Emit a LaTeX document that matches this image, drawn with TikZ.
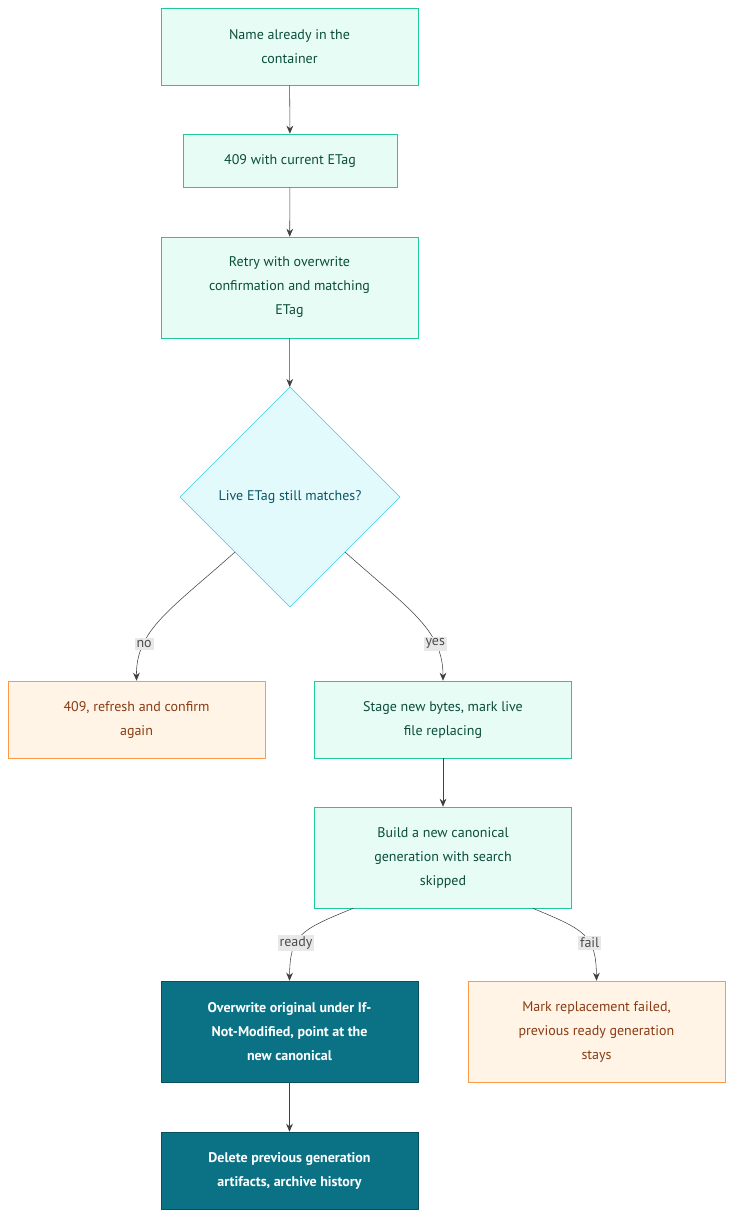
\documentclass[tikz,border=0pt]{standalone}
\usepackage{fontspec}
\setmainfont{PT Sans}
\usetikzlibrary{arrows.meta, positioning, shapes.geometric}
\definecolor{stepfill}{HTML}{E6FCF5}
\definecolor{stepline}{HTML}{20C997}
\definecolor{steptext}{HTML}{0B4D3A}
\definecolor{checkfill}{HTML}{E3FAFC}
\definecolor{checkline}{HTML}{3BC9DB}
\definecolor{checktext}{HTML}{0B5563}
\definecolor{stopfill}{HTML}{FFF4E6}
\definecolor{stopline}{HTML}{FD9A4A}
\definecolor{stoptext}{HTML}{8A3B12}
\definecolor{commitfill}{HTML}{0B7285}
\definecolor{commitline}{HTML}{08505E}
\definecolor{lblfill}{HTML}{E8E8E8}
\begin{document}
\begin{tikzpicture}[
                x=0.75pt, y=-0.75pt,
                font=\fontsize{10.5}{18}\selectfont,
                stepbox/.style={draw=stepline, fill=stepfill, text=steptext, align=center, inner sep=0pt, minimum width=192.75pt},
                check/.style={diamond, draw=checkline, fill=checkfill, text=checktext, align=center, minimum width=165pt, minimum height=165pt, inner sep=0pt},
                stop/.style={stepbox, draw=stopline, fill=stopfill, text=stoptext},
                commit/.style={stepbox, draw=commitline, fill=commitfill, text=white, font=\fontsize{10.5}{18}\selectfont\bfseries},
                lbl/.style={fill=lblfill, text=black!70, inner sep=1.5pt, font=\fontsize{10.5}{12}\selectfont},
                flow/.style={draw=black!75, -{Stealth[length=6pt,width=5pt]}},
            ]
                \useasboundingbox (0,0) rectangle (741,1231);

                % Steps
                \node[stepbox, minimum height=57.75pt] (inuse) at (289.5,46.5) {Name already in the\\container};
                \node[stepbox, minimum width=160.5pt, minimum height=39.75pt] (conflict) at (290,160.5) {409 with current ETag};
                \node[stepbox, minimum height=75.75pt] (retry) at (289.5,287.5) {Retry with overwrite\\confirmation and matching\\ETag};
                \node[check] (match) at (290,497) {Live ETag still matches?};
                \node[stop, minimum height=57.75pt] (refresh) at (136.5,719.5) {409, refresh and confirm\\again};
                \node[stepbox, minimum height=57.75pt] (stage) at (443,719.5) {Stage new bytes, mark live\\file replacing};
                \node[stepbox, minimum height=75.75pt] (build) at (443,857.5) {Build a new canonical\\generation with search\\skipped};
                \node[commit, minimum height=75.75pt] (overwrite) at (289.5,1031.5) {Overwrite original under If-\\Not-Modified, point at the\\new canonical};
                \node[stop, minimum height=75.75pt] (failed) at (596.5,1031.5) {Mark replacement failed,\\previous ready generation\\stays};
                \node[commit, minimum height=57.75pt] (cleanup) at (289.5,1170.5) {Delete previous generation\\artifacts, archive history};

                % Connectors
                \draw[flow] (inuse) -- (conflict);
                \draw[flow] (conflict) -- (retry);
                \draw[flow] (retry) -- (match);
                \draw[flow] (match.south west) .. controls (170,610) and (136,630) .. node[lbl, pos=0.72] {no} (refresh.north);
                \draw[flow] (match.south east) .. controls (410,610) and (443,630) .. node[lbl, pos=0.72] {yes} (stage.north);
                \draw[flow] (stage) -- (build);
                \draw[flow] (build.south west) ++(39,0) coordinate (bl) (bl) .. controls (300,930) and (290,935) .. node[lbl, pos=0.62] {ready} (overwrite.north);
                \draw[flow] (build.south east) ++(-39,0) coordinate (br) (br) .. controls (585,930) and (596,935) .. node[lbl, pos=0.62] {fail} (failed.north);
                \draw[flow] (overwrite) -- (cleanup);
            \end{tikzpicture}
\end{document}
